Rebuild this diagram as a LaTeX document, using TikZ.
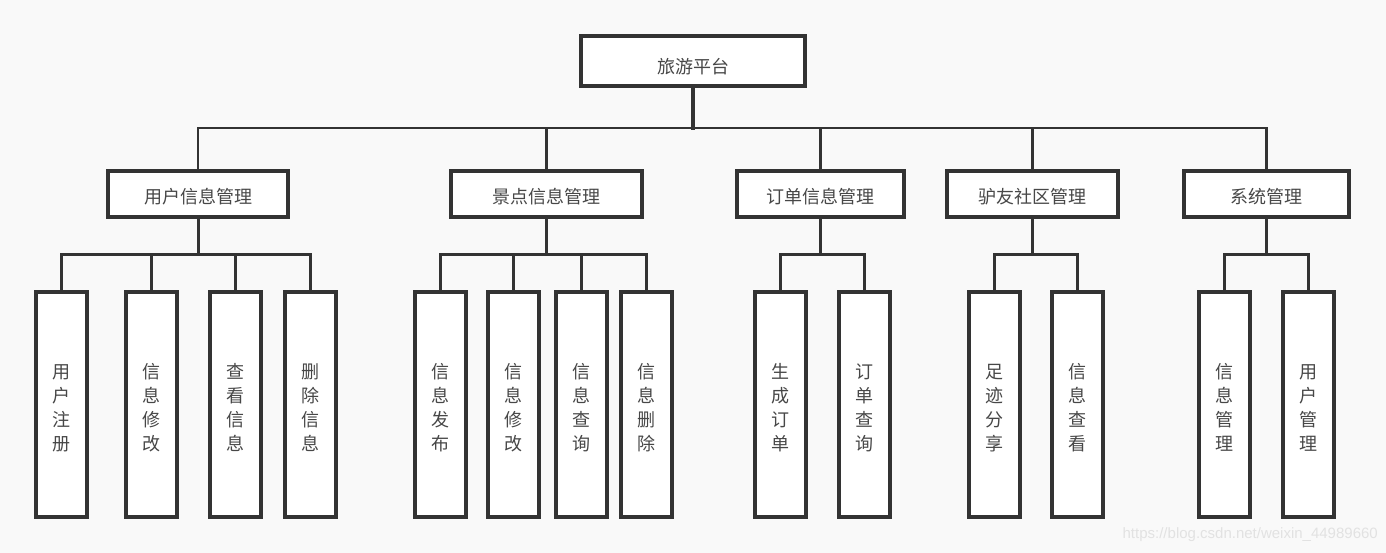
\documentclass[tikz,border=0pt]{standalone}
\usepackage{fontspec}
\newfontfamily\cjk{Noto Sans CJK SC}
\definecolor{bg}{HTML}{F9F9F9}
\definecolor{ln}{HTML}{333333}
\definecolor{wm}{HTML}{E2E2E2}
\begin{document}
\begin{tikzpicture}[x=1pt,y=-1pt,
  box/.style={draw=ln,line width=2.6pt,fill=white,inner sep=0pt,font=\cjk\fontsize{18}{24}\selectfont,text=ln!90},
  rootbox/.style={box,minimum width=222pt,minimum height=48pt,text height=24.8pt,text depth=0pt},
  midbox/.style={box,minimum height=44pt,text height=19.8pt,text depth=0pt},
  leaf/.style={box,minimum width=49pt,minimum height=223pt,align=center,text height=91.8pt,text depth=0pt},
  conn/.style={draw=ln,line width=2.6pt,line cap=rect}]
\fill[bg] (0,0) rectangle (1386,553);
\useasboundingbox (0,0) rectangle (1386,553);
% root
\node[rootbox] (root) at (693,61) {旅游平台};
% level 2
\node[midbox,minimum width=178pt] (u) at (198,194) {用户信息管理};
\node[midbox,minimum width=189pt] (s) at (546.5,194) {景点信息管理};
\node[midbox,minimum width=165pt] (o) at (820.5,194) {订单信息管理};
\node[midbox,minimum width=169pt] (c) at (1032.5,194) {驴友社区管理};
\node[midbox,minimum width=163pt] (m) at (1266.5,194) {系统管理};
% leaves
\node[leaf] (u1) at (61.5,404.5) {用\\户\\注\\册};
\node[leaf] (u2) at (151.5,404.5) {信\\息\\修\\改};
\node[leaf] (u3) at (235.5,404.5) {查\\看\\信\\息};
\node[leaf] (u4) at (310.5,404.5) {删\\除\\信\\息};
\node[leaf] (s1) at (440.5,404.5) {信\\息\\发\\布};
\node[leaf] (s2) at (513.5,404.5) {信\\息\\修\\改};
\node[leaf] (s3) at (581.5,404.5) {信\\息\\查\\询};
\node[leaf] (s4) at (646.5,404.5) {信\\息\\删\\除};
\node[leaf] (o1) at (780.5,404.5) {生\\成\\订\\单};
\node[leaf] (o2) at (864.5,404.5) {订\\单\\查\\询};
\node[leaf] (c1) at (994.5,404.5) {足\\迹\\分\\享};
\node[leaf] (c2) at (1077.5,404.5) {信\\息\\查\\看};
\node[leaf] (m1) at (1224.5,404.5) {信\\息\\管\\理};
\node[leaf] (m2) at (1308.5,404.5) {用\\户\\管\\理};
% connectors
\coordinate (bus) at (0,128);
\coordinate (sub) at (0,254.5);
\draw[conn,line width=3.2pt] (root.south) -- (root.south |- bus);
\foreach \k in {u,s,o,c,m}
  \draw[conn] (root.south |- bus) -| (\k.north);
\foreach \p/\kids in {u/{u1,u2,u3,u4},s/{s1,s2,s3,s4},o/{o1,o2},c/{c1,c2},m/{m1,m2}}{
  \draw[conn,line width=3pt] (\p.south) -- (\p.south |- sub);
  \foreach \k in \kids
    \draw[conn] (\p.south |- sub) -| (\k.north);
}
% redraw box outlines on top of connectors
\foreach \k in {root,u,s,o,c,m,u1,u2,u3,u4,s1,s2,s3,s4,o1,o2,c1,c2,m1,m2}
  \draw[ln,line width=2.6pt] (\k.north west) rectangle (\k.south east);
\node[anchor=east,font=\fontspec{Liberation Sans}\fontsize{15}{18}\selectfont,text=wm,inner sep=0pt] (wmark) at (1378,535) {https://blog.csdn.net/weixin\_44989660};
\end{tikzpicture}
\end{document}
